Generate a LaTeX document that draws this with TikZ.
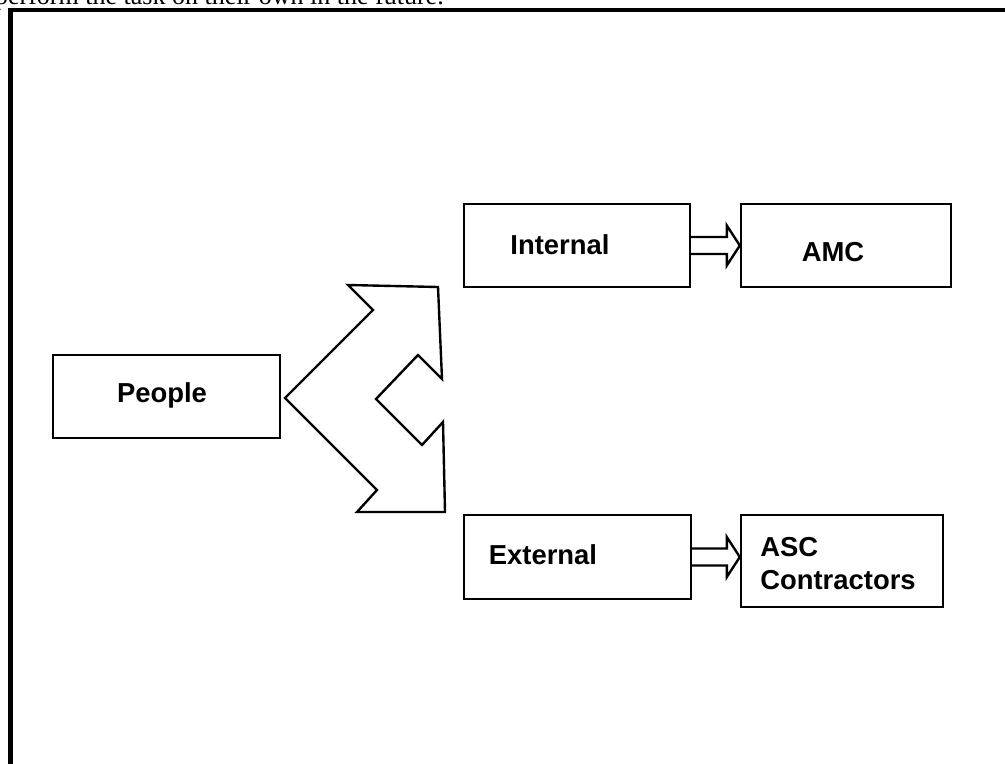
\documentclass[tikz,border=0pt]{standalone}
\usepackage{fontspec}
\setmainfont{Liberation Serif}
\setsansfont{Liberation Sans}
\usepackage{tikz}
\usetikzlibrary{calc}

% hollow block arrow from #1 (box edge) to #2 (tip)
\newcommand{\blockarrow}[2]{%
  \draw[arrowline] ($(#1)+(0,-8.5)$) -- ($(#2)+(-13,-8.5)$) -- ($(#2)+(-13,-20)$)
    -- (#2) -- ($(#2)+(-13,20)$) -- ($(#2)+(-13,8.5)$) -- ($(#1)+(0,8.5)$);
}

\begin{document}
\begin{tikzpicture}[
  x=0.025cm, y=-0.025cm,
  box/.style={draw, line width=1.7pt, inner sep=0pt},
  lbl/.style={font=\sffamily\bfseries\fontsize{19.5}{23.4}\selectfont, inner sep=0pt},
  arrowline/.style={line width=1.7pt, line join=miter},
]
  \useasboundingbox (0,0) rectangle (1005,763);
  \clip (0,0) rectangle (1005,763);

  % Page text above the frame
  \node[font=\fontsize{18.5}{22}\selectfont, anchor=base east, inner sep=0pt] (pagetext) at (444,4)
    {perform the task on their own in the future.};

  % Frame
  \draw[line width=3pt] (10.5,770) -- (10.5,9.7) -- (1015,9.7);

  % Boxes
  \node[box, minimum width=227*0.025cm, minimum height=83*0.025cm] (people) at (166.5,396.5) {};
  \node[box, minimum width=226*0.025cm, minimum height=83*0.025cm] (internal) at (577,245.5) {};
  \node[box, minimum width=210*0.025cm, minimum height=83*0.025cm] (amc) at (846,245.5) {};
  \node[box, minimum width=227*0.025cm, minimum height=84*0.025cm] (external) at (577.5,557) {};
  \node[box, minimum width=202*0.025cm, minimum height=92*0.025cm] (asc) at (842,561) {};

  % Labels
  \node[lbl] (peoplelbl) at (162,395) {People};
  \node[lbl] (internallbl) at (560,245) {Internal};
  \node[lbl] (amclbl) at (833,252) {AMC};
  \node[lbl] (externallbl) at (543,555) {External};
  \node[lbl, align=left, anchor=west] (asclbl) at (760,563.5) {ASC\\Contractors};

  % Brace
  \draw[line width=1.7pt, line join=miter]
    (348,285) -- (438,287) -- (442,379) -- (418,355) -- (376,399) -- (422,445)
    -- (443,422) -- (445,512) -- (357,512) -- (377,490) -- (285,398) -- (373,310) -- cycle;

  % Arrows
  \coordinate (tipa) at (internal.east -| amc.west);
  \coordinate (tipb) at (external.east -| asc.west);
  \blockarrow{internal.east}{tipa}
  \blockarrow{external.east}{tipb}

\end{tikzpicture}
\end{document}
